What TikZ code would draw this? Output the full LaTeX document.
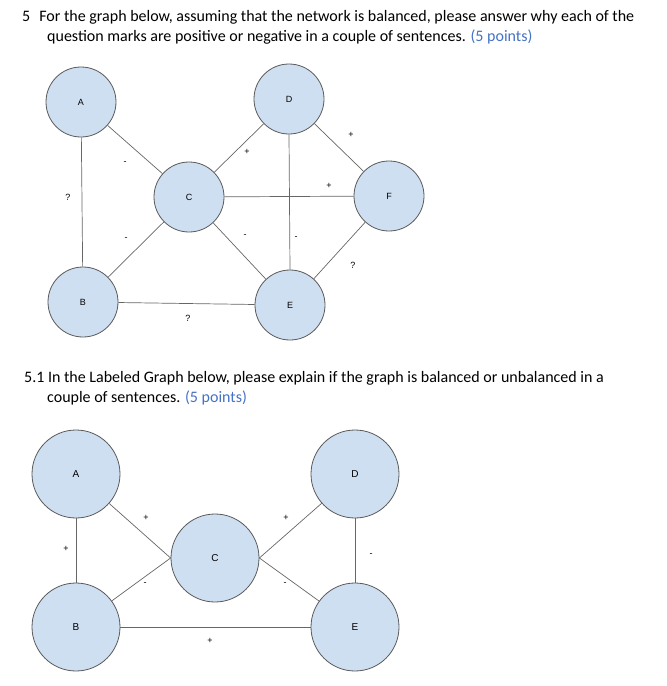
\documentclass[tikz,border=0pt]{standalone}
\usepackage{fontspec}
\setmainfont{Carlito}
\newfontfamily\arialf{Liberation Sans}
\definecolor{nodefill}{HTML}{CFDFF2}
\definecolor{linkblue}{HTML}{4472C4}
\begin{document}
\begin{tikzpicture}[x=1pt,y=-1pt,
  vtx/.style={circle,draw=black!65,line width=0.8pt,fill=nodefill,inner sep=0pt,font=\arialf\fontsize{9}{9}\selectfont},
  small/.style={vtx,minimum size=70pt},
  big/.style={vtx,minimum size=88pt,font=\arialf\fontsize{10}{10}\selectfont},
  edge/.style={draw=black!60,line width=0.7pt},
  lbl/.style={font=\arialf\fontsize{9}{9}\selectfont,inner sep=0pt},
  para/.style={anchor=base west,inner sep=0pt,font=\fontsize{16}{18}\selectfont}]
\useasboundingbox (0,0) rectangle (667,686);
\node[para] (t1) at (22,21) {5\hspace{9pt}For the graph below, assuming that the network is balanced, please answer why each of the};
\node[para] (t2) at (47,41) {question marks are positive or negative in a couple of sentences. \textcolor{linkblue}{(5 points)}};
\node[para] (t3) at (24,382) {5.1 In the Labeled Graph below, please explain if the graph is balanced or unbalanced in a};
\node[para] (t4) at (47,402) {couple of sentences. \textcolor{linkblue}{(5 points)}};
% top graph
\node[small] (A) at (81,102) {A};
\node[small] (D) at (289,99) {D};
\node[small] (C) at (189,197) {C};
\node[small] (F) at (389,196) {F};
\node[small] (B) at (83,302) {B};
\node[small] (E) at (290,305) {E};
\draw[edge] (A) -- (C);
\draw[edge] (A) -- (B);
\draw[edge] (B) -- (C);
\draw[edge] (C) -- (D);
\draw[edge] (D) -- (F);
\draw[edge] (C) -- (F);
\draw[edge] (C) -- (E);
\draw[edge] (D.south) -- (E.north);
\draw[edge] (E) -- (F);
\draw[edge] (B) -- (E);
\node[lbl] (l1) at (125,163) {-};
\node[lbl] (l2) at (68,197) {?};
\node[lbl] (l3) at (126,239) {-};
\node[lbl] (l4) at (247,152) {+};
\node[lbl] (l5) at (351,135) {+};
\node[lbl] (l6) at (329,186) {+};
\node[lbl] (l7) at (245,236) {-};
\node[lbl] (l8) at (296,238) {-};
\node[lbl] (l9) at (353,265) {?};
\node[lbl] (l10) at (188,318) {?};
% bottom graph
\node[big] (A2) at (76,474) {A};
\node[big] (D2) at (355,474) {D};
\node[big] (C2) at (215,558) {C};
\node[big] (B2) at (76,627) {B};
\node[big] (E2) at (355,627) {E};
\draw[edge] (A2) -- (B2);
\draw[edge] (A2) -- (C2.west);
\draw[edge] (B2) -- (C2.west);
\draw[edge] (D2) -- (C2.east);
\draw[edge] (E2) -- (C2.east);
\draw[edge] (D2) -- (E2);
\draw[edge] (B2) -- (E2);
\node[lbl] (m1) at (66,549) {+};
\node[lbl] (m2) at (146,518) {+};
\node[lbl] (m3) at (286,518) {+};
\node[lbl] (m4) at (371,555) {-};
\node[lbl] (m5) at (145,584) {-};
\node[lbl] (m6) at (285,584) {-};
\node[lbl] (m7) at (210,641) {+};
\end{tikzpicture}
\end{document}
